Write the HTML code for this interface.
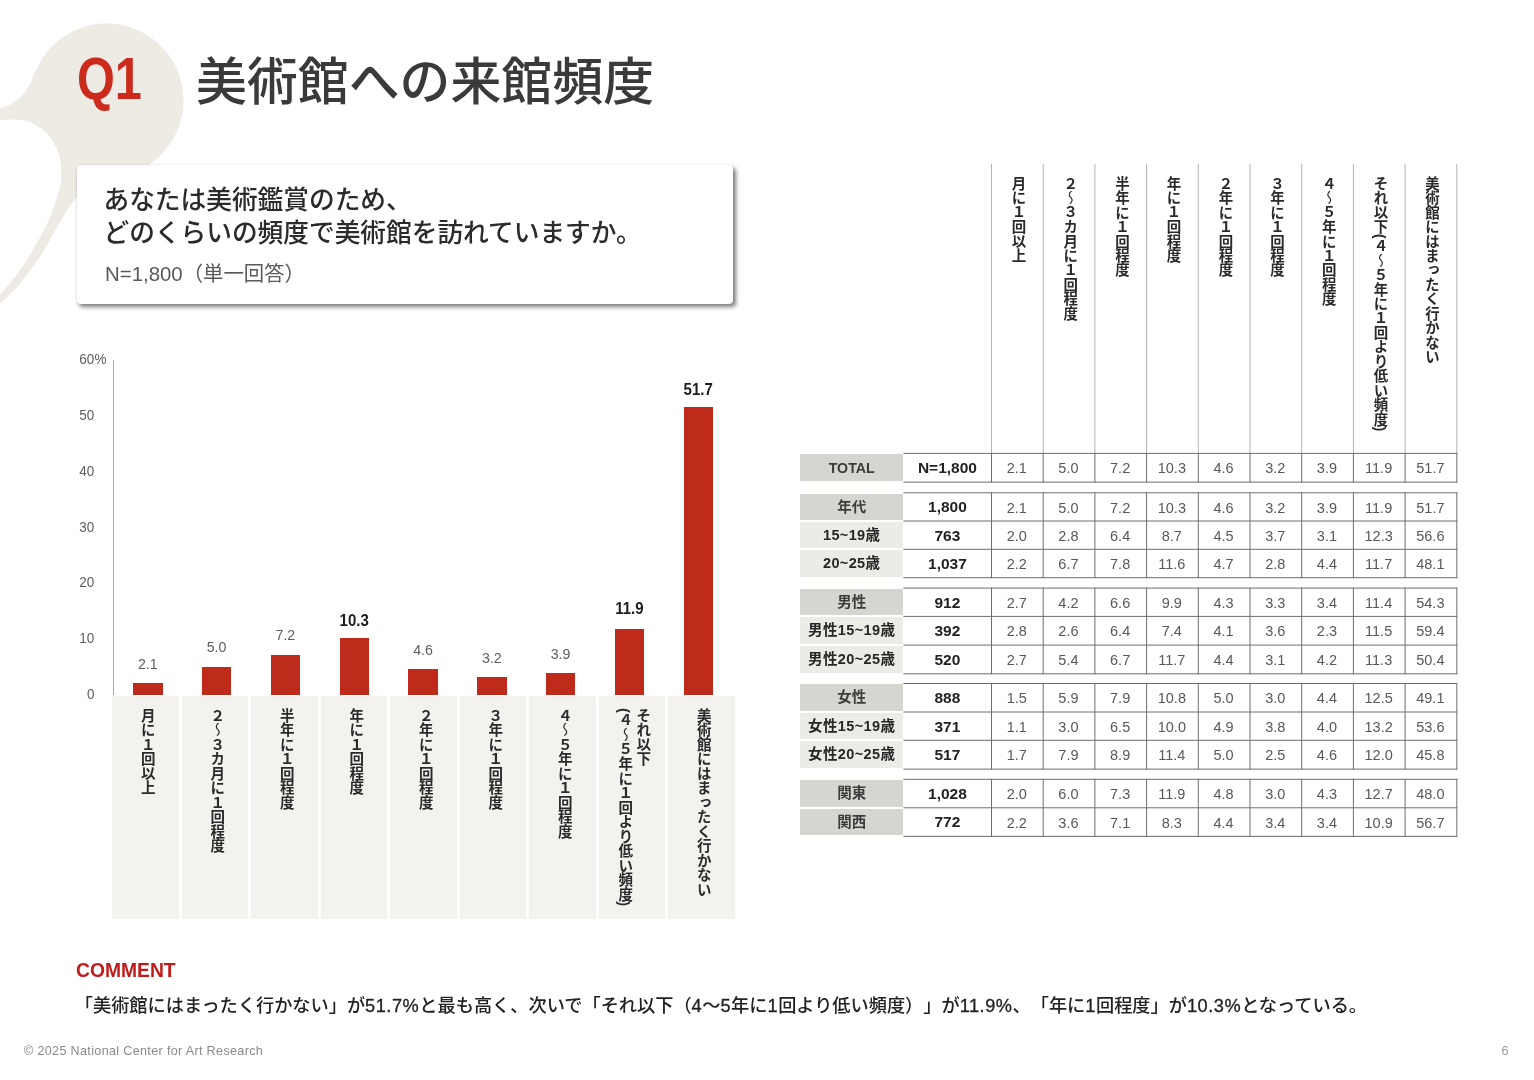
<!DOCTYPE html>
<html lang="ja">
<head>
<meta charset="utf-8">
<title>Q1 美術館への来館頻度</title>
<style>
html,body{margin:0;padding:0;background:#fff}
body{text-spacing-trim:space-all;width:1534px;height:1080px;position:relative;overflow:hidden;font-family:"Liberation Sans", "Noto Sans CJK JP", sans-serif;color:#333}
div,span{box-sizing:border-box}
.abs{position:absolute}
.bubble{position:absolute;left:0;top:0;width:400px;height:340px}
.q1{position:absolute;left:76.6px;top:47.2px;font-size:58.3px;line-height:64px;font-weight:700;color:#cb2a1c;transform-origin:0 50%;transform:scaleX(.835);white-space:nowrap}
.title{position:absolute;left:196px;top:48.4px;font-size:50.9px;line-height:70px;font-weight:500;color:#3a3a3a;white-space:nowrap}
.card{position:absolute;left:76.5px;top:164.5px;width:656.7px;height:139.8px;background:#fff;border-radius:4px;box-shadow:2.5px 3px 4px rgba(0,0,0,.5), 0 0 3px rgba(0,0,0,.07)}
.card .q{position:absolute;left:27px;top:19.3px;font-size:25.7px;line-height:33.6px;font-weight:500;color:#2b2b2b;white-space:nowrap}
.card .n{position:absolute;left:28.5px;top:95px;font-size:20.4px;line-height:28px;font-weight:400;color:#5a5a5a;white-space:nowrap}
.ylab{position:absolute;left:40px;width:54.4px;text-align:right;font-size:13.5px;line-height:16px;color:#5e5e5e;white-space:nowrap;transform:scaleY(1.14)}
.ylab i{font-style:normal;position:absolute;left:100%}
.axis{position:absolute;left:112.8px;top:360.2px;width:1px;height:335px;background:#a8a8a8}
.bar{position:absolute;background:#bf2b1b;width:29.4px}
.val{position:absolute;width:60px;text-align:center;font-size:14.2px;line-height:16px;color:#5e5e5e;transform:scaleY(1.07)}
.val.b{font-weight:700;font-size:15px;color:#1c1c1c;transform:scaleY(1.1)}
.xbox{position:absolute;top:696.2px;height:223px;background:#f4f2ee}
.vt i{font-style:normal;font-weight:400}
.vt{position:absolute;writing-mode:vertical-rl;text-orientation:mixed;font-weight:700;font-size:14.5px;line-height:18px;color:#2a2a2a;white-space:nowrap}
.lab{position:absolute;left:800px;width:103.4px;text-align:center;font-weight:700;font-size:14.5px;color:#262626;white-space:nowrap}
.lab.dk{background:#d6d5d0;color:#3c3c3c}
.lab.lt{background:#edebe6;letter-spacing:.38px}
.ncell{position:absolute;left:903.4px;width:88.1px;text-align:center;font-weight:700;font-size:15.5px;color:#222;white-space:nowrap}
.dcell{position:absolute;width:51.7px;text-align:center;font-size:14.5px;color:#585858;white-space:nowrap}
.comment-h{position:absolute;left:76px;top:960.4px;font-size:19.3px;line-height:22px;font-weight:700;color:#c11a1a}
.comment{position:absolute;left:74.8px;top:993px;font-size:18.2px;line-height:26px;font-weight:500;color:#222;white-space:nowrap}
.comment span{letter-spacing:.53px;-webkit-text-stroke:.3px #222}
.foot{position:absolute;left:24px;top:1043.6px;font-size:12.6px;line-height:14px;letter-spacing:.33px;color:#8a8a8a;white-space:nowrap}
.pg{position:absolute;left:1480px;width:28.5px;text-align:right;top:1043.8px;font-size:12.6px;line-height:14px;color:#999}
</style>
</head>
<body>

<svg class="bubble" viewBox="0 0 400 340" aria-hidden="true"><g fill="#eeeae4"><circle cx="106.7" cy="100.4" r="76.8"/><path d="M -6.0,109.5 C -5.0,109.3 -2.9,109.2 0.0,108.3 C 2.9,107.4 7.4,106.0 11.1,103.9 C 14.8,101.8 19.1,98.8 22.2,95.6 C 25.3,92.3 27.8,88.7 30.0,84.4 C 32.2,80.1 34.7,72.4 35.6,70.0 L 106,100 L 120,200 L 80.0,193.0 C 79.3,193.8 77.9,195.2 75.8,198.0 C 73.7,200.8 70.6,205.0 67.4,210.0 C 64.2,215.0 60.2,221.8 56.6,228.0 C 53.0,234.2 49.5,241.2 45.7,247.4 C 41.9,253.6 38.3,259.0 33.7,265.4 C 29.1,271.8 23.6,279.6 18.0,286.0 C 12.4,292.4 4.0,300.1 0.0,304.0 C -4.0,307.9 -5.0,308.6 -6.0,309.5 L -6.0,299.5 C -5.0,298.6 -3.4,298.0 0.0,294.3 C 3.4,290.6 9.8,283.5 14.4,277.5 C 19.0,271.5 23.5,264.8 27.7,258.2 C 31.9,251.6 35.9,244.8 39.7,237.8 C 43.5,230.8 47.7,222.6 50.5,216.0 C 53.3,209.4 54.9,203.3 56.6,198.0 C 58.3,192.7 59.9,188.7 60.6,184.0 C 61.4,179.3 61.4,174.9 61.1,170.0 C 60.8,165.1 60.2,159.0 58.9,154.4 C 57.6,149.8 55.7,146.1 53.3,142.2 C 50.9,138.3 48.3,134.4 44.4,131.1 C 40.5,127.8 34.6,124.0 30.0,122.2 C 25.4,120.4 21.7,120.4 16.7,120.0 C 11.7,119.6 3.8,120.0 0.0,120.0 C -3.8,120.0 -5.0,120.0 -6.0,120.0 Z"/></g><path fill="#fff" d="M -6.0,299.5 C -5.0,298.6 -3.4,298.0 0.0,294.3 C 3.4,290.6 9.8,283.5 14.4,277.5 C 19.0,271.5 23.5,264.8 27.7,258.2 C 31.9,251.6 35.9,244.8 39.7,237.8 C 43.5,230.8 47.7,222.6 50.5,216.0 C 53.3,209.4 54.9,203.3 56.6,198.0 C 58.3,192.7 59.9,188.7 60.6,184.0 C 61.4,179.3 61.4,174.9 61.1,170.0 C 60.8,165.1 60.2,159.0 58.9,154.4 C 57.6,149.8 55.7,146.1 53.3,142.2 C 50.9,138.3 48.3,134.4 44.4,131.1 C 40.5,127.8 34.6,124.0 30.0,122.2 C 25.4,120.4 21.7,120.4 16.7,120.0 C 11.7,119.6 3.8,120.0 0.0,120.0 C -3.8,120.0 -5.0,120.0 -6.0,120.0 Z"/></svg>
<div class="q1">Q1</div>
<div class="title">美術館への来館頻度</div>
<div class="card"><div class="q">あなたは美術鑑賞のため、<br>どのくらいの頻度で美術館を訪れていますか。</div><div class="n">N=1,800（単一回答）</div></div>
<div class="axis"></div>
<div class="ylab" style="top:351.3px">60<i>%</i></div>
<div class="ylab" style="top:406.8px">50</div>
<div class="ylab" style="top:462.7px">40</div>
<div class="ylab" style="top:518.5px">30</div>
<div class="ylab" style="top:574.3px">20</div>
<div class="ylab" style="top:630.2px">10</div>
<div class="ylab" style="top:686.0px">0</div>
<div class="xbox" style="left:112.2px;width:66.6px"></div>
<div class="bar" style="left:133.2px;top:683.4px;height:11.2px"></div>
<div class="val" style="left:117.8px;top:655.6px">2.1</div>
<div class="vt" style="left:137.7px;top:707.5px;width:18px">月に１回以上</div>
<div class="xbox" style="left:181.7px;width:66.6px"></div>
<div class="bar" style="left:201.9px;top:667.2px;height:27.4px"></div>
<div class="val" style="left:186.6px;top:639.4px">5.0</div>
<div class="vt" style="left:207.2px;top:707.5px;width:18px">２<i>～</i>３カ月に１回程度</div>
<div class="xbox" style="left:251.2px;width:66.6px"></div>
<div class="bar" style="left:270.8px;top:654.9px;height:39.7px"></div>
<div class="val" style="left:255.4px;top:627.1px">7.2</div>
<div class="vt" style="left:276.7px;top:707.5px;width:18px">半年に１回程度</div>
<div class="xbox" style="left:320.7px;width:66.6px"></div>
<div class="bar" style="left:339.6px;top:637.7px;height:56.9px"></div>
<div class="val b" style="left:324.2px;top:611.5px">10.3</div>
<div class="vt" style="left:346.2px;top:707.5px;width:18px">年に１回程度</div>
<div class="xbox" style="left:390.2px;width:66.6px"></div>
<div class="bar" style="left:408.3px;top:669.4px;height:25.2px"></div>
<div class="val" style="left:393.0px;top:641.6px">4.6</div>
<div class="vt" style="left:415.7px;top:707.5px;width:18px">２年に１回程度</div>
<div class="xbox" style="left:459.7px;width:66.6px"></div>
<div class="bar" style="left:477.2px;top:677.3px;height:17.3px"></div>
<div class="val" style="left:461.9px;top:649.5px">3.2</div>
<div class="vt" style="left:485.2px;top:707.5px;width:18px">３年に１回程度</div>
<div class="xbox" style="left:529.2px;width:66.6px"></div>
<div class="bar" style="left:545.9px;top:673.3px;height:21.3px"></div>
<div class="val" style="left:530.6px;top:645.5px">3.9</div>
<div class="vt" style="left:554.7px;top:707.5px;width:18px">４<i>～</i>５年に１回程度</div>
<div class="xbox" style="left:598.7px;width:66.6px"></div>
<div class="bar" style="left:614.7px;top:628.7px;height:65.9px"></div>
<div class="val b" style="left:599.4px;top:599.5px">11.9</div>
<div class="vt" style="left:615.2px;top:707.5px;width:36px">それ以下<br>(４<i>～</i>５年に１回より低い頻度)</div>
<div class="xbox" style="left:668.2px;width:66.6px"></div>
<div class="bar" style="left:683.5px;top:406.8px;height:287.8px"></div>
<div class="val b" style="left:668.2px;top:380.5px">51.7</div>
<div class="vt" style="left:693.7px;top:707.5px;width:18px">美術館にはまったく行かない</div>
<div class="vt" style="left:1008.6px;top:175.5px;width:18px;font-size:14.45px">月に１回以上</div>
<div class="vt" style="left:1060.3px;top:175.5px;width:18px;font-size:14.45px">２<i>～</i>３カ月に１回程度</div>
<div class="vt" style="left:1112.0px;top:175.5px;width:18px;font-size:14.45px">半年に１回程度</div>
<div class="vt" style="left:1163.6px;top:175.5px;width:18px;font-size:14.45px">年に１回程度</div>
<div class="vt" style="left:1215.4px;top:175.5px;width:18px;font-size:14.45px">２年に１回程度</div>
<div class="vt" style="left:1267.0px;top:175.5px;width:18px;font-size:14.45px">３年に１回程度</div>
<div class="vt" style="left:1318.8px;top:175.5px;width:18px;font-size:14.45px">４<i>～</i>５年に１回程度</div>
<div class="vt" style="left:1370.5px;top:175.5px;width:18px;font-size:14.45px">それ以下(４<i>～</i>５年に１回より低い頻度)</div>
<div class="vt" style="left:1422.1px;top:175.5px;width:18px;font-size:14.45px">美術館にはまったく行かない</div>
<div class="lab dk" style="top:454.2px;height:26.9px;line-height:28.9px;font-size:14.2px">TOTAL</div>
<div class="ncell" style="top:452.9px;height:28.7px;line-height:29.7px">N=1,800</div>
<div class="dcell" style="left:990.9px;top:454.2px;height:28.7px;line-height:29.7px">2.1</div>
<div class="dcell" style="left:1042.6px;top:454.2px;height:28.7px;line-height:29.7px">5.0</div>
<div class="dcell" style="left:1094.3px;top:454.2px;height:28.7px;line-height:29.7px">7.2</div>
<div class="dcell" style="left:1146.0px;top:454.2px;height:28.7px;line-height:29.7px">10.3</div>
<div class="dcell" style="left:1197.7px;top:454.2px;height:28.7px;line-height:29.7px">4.6</div>
<div class="dcell" style="left:1249.4px;top:454.2px;height:28.7px;line-height:29.7px">3.2</div>
<div class="dcell" style="left:1301.1px;top:454.2px;height:28.7px;line-height:29.7px">3.9</div>
<div class="dcell" style="left:1352.8px;top:454.2px;height:28.7px;line-height:29.7px">11.9</div>
<div class="dcell" style="left:1404.5px;top:454.2px;height:28.7px;line-height:29.7px">51.7</div>
<div class="lab dk" style="top:493.6px;height:26.4px;line-height:26.4px">年代</div>
<div class="ncell" style="top:492.3px;height:28.2px;line-height:29.2px">1,800</div>
<div class="dcell" style="left:990.9px;top:493.6px;height:28.2px;line-height:29.2px">2.1</div>
<div class="dcell" style="left:1042.6px;top:493.6px;height:28.2px;line-height:29.2px">5.0</div>
<div class="dcell" style="left:1094.3px;top:493.6px;height:28.2px;line-height:29.2px">7.2</div>
<div class="dcell" style="left:1146.0px;top:493.6px;height:28.2px;line-height:29.2px">10.3</div>
<div class="dcell" style="left:1197.7px;top:493.6px;height:28.2px;line-height:29.2px">4.6</div>
<div class="dcell" style="left:1249.4px;top:493.6px;height:28.2px;line-height:29.2px">3.2</div>
<div class="dcell" style="left:1301.1px;top:493.6px;height:28.2px;line-height:29.2px">3.9</div>
<div class="dcell" style="left:1352.8px;top:493.6px;height:28.2px;line-height:29.2px">11.9</div>
<div class="dcell" style="left:1404.5px;top:493.6px;height:28.2px;line-height:29.2px">51.7</div>
<div class="lab lt" style="top:521.8px;height:26.5px;line-height:26.5px">15~19歳</div>
<div class="ncell" style="top:520.5px;height:28.3px;line-height:29.3px">763</div>
<div class="dcell" style="left:990.9px;top:521.8px;height:28.3px;line-height:29.3px">2.0</div>
<div class="dcell" style="left:1042.6px;top:521.8px;height:28.3px;line-height:29.3px">2.8</div>
<div class="dcell" style="left:1094.3px;top:521.8px;height:28.3px;line-height:29.3px">6.4</div>
<div class="dcell" style="left:1146.0px;top:521.8px;height:28.3px;line-height:29.3px">8.7</div>
<div class="dcell" style="left:1197.7px;top:521.8px;height:28.3px;line-height:29.3px">4.5</div>
<div class="dcell" style="left:1249.4px;top:521.8px;height:28.3px;line-height:29.3px">3.7</div>
<div class="dcell" style="left:1301.1px;top:521.8px;height:28.3px;line-height:29.3px">3.1</div>
<div class="dcell" style="left:1352.8px;top:521.8px;height:28.3px;line-height:29.3px">12.3</div>
<div class="dcell" style="left:1404.5px;top:521.8px;height:28.3px;line-height:29.3px">56.6</div>
<div class="lab lt" style="top:550.1px;height:26.6px;line-height:26.6px">20~25歳</div>
<div class="ncell" style="top:548.8px;height:28.4px;line-height:29.4px">1,037</div>
<div class="dcell" style="left:990.9px;top:550.1px;height:28.4px;line-height:29.4px">2.2</div>
<div class="dcell" style="left:1042.6px;top:550.1px;height:28.4px;line-height:29.4px">6.7</div>
<div class="dcell" style="left:1094.3px;top:550.1px;height:28.4px;line-height:29.4px">7.8</div>
<div class="dcell" style="left:1146.0px;top:550.1px;height:28.4px;line-height:29.4px">11.6</div>
<div class="dcell" style="left:1197.7px;top:550.1px;height:28.4px;line-height:29.4px">4.7</div>
<div class="dcell" style="left:1249.4px;top:550.1px;height:28.4px;line-height:29.4px">2.8</div>
<div class="dcell" style="left:1301.1px;top:550.1px;height:28.4px;line-height:29.4px">4.4</div>
<div class="dcell" style="left:1352.8px;top:550.1px;height:28.4px;line-height:29.4px">11.7</div>
<div class="dcell" style="left:1404.5px;top:550.1px;height:28.4px;line-height:29.4px">48.1</div>
<div class="lab dk" style="top:588.9px;height:26.5px;line-height:26.5px">男性</div>
<div class="ncell" style="top:587.6px;height:28.3px;line-height:29.3px">912</div>
<div class="dcell" style="left:990.9px;top:588.9px;height:28.3px;line-height:29.3px">2.7</div>
<div class="dcell" style="left:1042.6px;top:588.9px;height:28.3px;line-height:29.3px">4.2</div>
<div class="dcell" style="left:1094.3px;top:588.9px;height:28.3px;line-height:29.3px">6.6</div>
<div class="dcell" style="left:1146.0px;top:588.9px;height:28.3px;line-height:29.3px">9.9</div>
<div class="dcell" style="left:1197.7px;top:588.9px;height:28.3px;line-height:29.3px">4.3</div>
<div class="dcell" style="left:1249.4px;top:588.9px;height:28.3px;line-height:29.3px">3.3</div>
<div class="dcell" style="left:1301.1px;top:588.9px;height:28.3px;line-height:29.3px">3.4</div>
<div class="dcell" style="left:1352.8px;top:588.9px;height:28.3px;line-height:29.3px">11.4</div>
<div class="dcell" style="left:1404.5px;top:588.9px;height:28.3px;line-height:29.3px">54.3</div>
<div class="lab lt" style="top:617.2px;height:26.9px;line-height:26.9px">男性15~19歳</div>
<div class="ncell" style="top:615.9px;height:28.7px;line-height:29.7px">392</div>
<div class="dcell" style="left:990.9px;top:617.2px;height:28.7px;line-height:29.7px">2.8</div>
<div class="dcell" style="left:1042.6px;top:617.2px;height:28.7px;line-height:29.7px">2.6</div>
<div class="dcell" style="left:1094.3px;top:617.2px;height:28.7px;line-height:29.7px">6.4</div>
<div class="dcell" style="left:1146.0px;top:617.2px;height:28.7px;line-height:29.7px">7.4</div>
<div class="dcell" style="left:1197.7px;top:617.2px;height:28.7px;line-height:29.7px">4.1</div>
<div class="dcell" style="left:1249.4px;top:617.2px;height:28.7px;line-height:29.7px">3.6</div>
<div class="dcell" style="left:1301.1px;top:617.2px;height:28.7px;line-height:29.7px">2.3</div>
<div class="dcell" style="left:1352.8px;top:617.2px;height:28.7px;line-height:29.7px">11.5</div>
<div class="dcell" style="left:1404.5px;top:617.2px;height:28.7px;line-height:29.7px">59.4</div>
<div class="lab lt" style="top:645.9px;height:26.9px;line-height:26.9px">男性20~25歳</div>
<div class="ncell" style="top:644.6px;height:28.7px;line-height:29.7px">520</div>
<div class="dcell" style="left:990.9px;top:645.9px;height:28.7px;line-height:29.7px">2.7</div>
<div class="dcell" style="left:1042.6px;top:645.9px;height:28.7px;line-height:29.7px">5.4</div>
<div class="dcell" style="left:1094.3px;top:645.9px;height:28.7px;line-height:29.7px">6.7</div>
<div class="dcell" style="left:1146.0px;top:645.9px;height:28.7px;line-height:29.7px">11.7</div>
<div class="dcell" style="left:1197.7px;top:645.9px;height:28.7px;line-height:29.7px">4.4</div>
<div class="dcell" style="left:1249.4px;top:645.9px;height:28.7px;line-height:29.7px">3.1</div>
<div class="dcell" style="left:1301.1px;top:645.9px;height:28.7px;line-height:29.7px">4.2</div>
<div class="dcell" style="left:1352.8px;top:645.9px;height:28.7px;line-height:29.7px">11.3</div>
<div class="dcell" style="left:1404.5px;top:645.9px;height:28.7px;line-height:29.7px">50.4</div>
<div class="lab dk" style="top:684.3px;height:26.7px;line-height:26.7px">女性</div>
<div class="ncell" style="top:683.0px;height:28.5px;line-height:29.5px">888</div>
<div class="dcell" style="left:990.9px;top:684.3px;height:28.5px;line-height:29.5px">1.5</div>
<div class="dcell" style="left:1042.6px;top:684.3px;height:28.5px;line-height:29.5px">5.9</div>
<div class="dcell" style="left:1094.3px;top:684.3px;height:28.5px;line-height:29.5px">7.9</div>
<div class="dcell" style="left:1146.0px;top:684.3px;height:28.5px;line-height:29.5px">10.8</div>
<div class="dcell" style="left:1197.7px;top:684.3px;height:28.5px;line-height:29.5px">5.0</div>
<div class="dcell" style="left:1249.4px;top:684.3px;height:28.5px;line-height:29.5px">3.0</div>
<div class="dcell" style="left:1301.1px;top:684.3px;height:28.5px;line-height:29.5px">4.4</div>
<div class="dcell" style="left:1352.8px;top:684.3px;height:28.5px;line-height:29.5px">12.5</div>
<div class="dcell" style="left:1404.5px;top:684.3px;height:28.5px;line-height:29.5px">49.1</div>
<div class="lab lt" style="top:712.8px;height:26.5px;line-height:26.5px">女性15~19歳</div>
<div class="ncell" style="top:711.5px;height:28.3px;line-height:29.3px">371</div>
<div class="dcell" style="left:990.9px;top:712.8px;height:28.3px;line-height:29.3px">1.1</div>
<div class="dcell" style="left:1042.6px;top:712.8px;height:28.3px;line-height:29.3px">3.0</div>
<div class="dcell" style="left:1094.3px;top:712.8px;height:28.3px;line-height:29.3px">6.5</div>
<div class="dcell" style="left:1146.0px;top:712.8px;height:28.3px;line-height:29.3px">10.0</div>
<div class="dcell" style="left:1197.7px;top:712.8px;height:28.3px;line-height:29.3px">4.9</div>
<div class="dcell" style="left:1249.4px;top:712.8px;height:28.3px;line-height:29.3px">3.8</div>
<div class="dcell" style="left:1301.1px;top:712.8px;height:28.3px;line-height:29.3px">4.0</div>
<div class="dcell" style="left:1352.8px;top:712.8px;height:28.3px;line-height:29.3px">13.2</div>
<div class="dcell" style="left:1404.5px;top:712.8px;height:28.3px;line-height:29.3px">53.6</div>
<div class="lab lt" style="top:741.1px;height:27.0px;line-height:27.0px">女性20~25歳</div>
<div class="ncell" style="top:739.8px;height:28.8px;line-height:29.8px">517</div>
<div class="dcell" style="left:990.9px;top:741.1px;height:28.8px;line-height:29.8px">1.7</div>
<div class="dcell" style="left:1042.6px;top:741.1px;height:28.8px;line-height:29.8px">7.9</div>
<div class="dcell" style="left:1094.3px;top:741.1px;height:28.8px;line-height:29.8px">8.9</div>
<div class="dcell" style="left:1146.0px;top:741.1px;height:28.8px;line-height:29.8px">11.4</div>
<div class="dcell" style="left:1197.7px;top:741.1px;height:28.8px;line-height:29.8px">5.0</div>
<div class="dcell" style="left:1249.4px;top:741.1px;height:28.8px;line-height:29.8px">2.5</div>
<div class="dcell" style="left:1301.1px;top:741.1px;height:28.8px;line-height:29.8px">4.6</div>
<div class="dcell" style="left:1352.8px;top:741.1px;height:28.8px;line-height:29.8px">12.0</div>
<div class="dcell" style="left:1404.5px;top:741.1px;height:28.8px;line-height:29.8px">45.8</div>
<div class="lab dk" style="top:780.1px;height:26.7px;line-height:26.7px">関東</div>
<div class="ncell" style="top:778.8px;height:28.5px;line-height:29.5px">1,028</div>
<div class="dcell" style="left:990.9px;top:780.1px;height:28.5px;line-height:29.5px">2.0</div>
<div class="dcell" style="left:1042.6px;top:780.1px;height:28.5px;line-height:29.5px">6.0</div>
<div class="dcell" style="left:1094.3px;top:780.1px;height:28.5px;line-height:29.5px">7.3</div>
<div class="dcell" style="left:1146.0px;top:780.1px;height:28.5px;line-height:29.5px">11.9</div>
<div class="dcell" style="left:1197.7px;top:780.1px;height:28.5px;line-height:29.5px">4.8</div>
<div class="dcell" style="left:1249.4px;top:780.1px;height:28.5px;line-height:29.5px">3.0</div>
<div class="dcell" style="left:1301.1px;top:780.1px;height:28.5px;line-height:29.5px">4.3</div>
<div class="dcell" style="left:1352.8px;top:780.1px;height:28.5px;line-height:29.5px">12.7</div>
<div class="dcell" style="left:1404.5px;top:780.1px;height:28.5px;line-height:29.5px">48.0</div>
<div class="lab dk" style="top:808.6px;height:26.8px;line-height:26.8px">関西</div>
<div class="ncell" style="top:807.3px;height:28.6px;line-height:29.6px">772</div>
<div class="dcell" style="left:990.9px;top:808.6px;height:28.6px;line-height:29.6px">2.2</div>
<div class="dcell" style="left:1042.6px;top:808.6px;height:28.6px;line-height:29.6px">3.6</div>
<div class="dcell" style="left:1094.3px;top:808.6px;height:28.6px;line-height:29.6px">7.1</div>
<div class="dcell" style="left:1146.0px;top:808.6px;height:28.6px;line-height:29.6px">8.3</div>
<div class="dcell" style="left:1197.7px;top:808.6px;height:28.6px;line-height:29.6px">4.4</div>
<div class="dcell" style="left:1249.4px;top:808.6px;height:28.6px;line-height:29.6px">3.4</div>
<div class="dcell" style="left:1301.1px;top:808.6px;height:28.6px;line-height:29.6px">3.4</div>
<div class="dcell" style="left:1352.8px;top:808.6px;height:28.6px;line-height:29.6px">10.9</div>
<div class="dcell" style="left:1404.5px;top:808.6px;height:28.6px;line-height:29.6px">56.7</div>
<svg class="abs" style="left:0;top:0" width="1534" height="1080" viewBox="0 0 1534 1080" aria-hidden="true"><g stroke="#b4b4b4" stroke-width="1"><line x1="991.5" y1="164" x2="991.5" y2="453.4"/><line x1="1043.2" y1="164" x2="1043.2" y2="453.4"/><line x1="1094.9" y1="164" x2="1094.9" y2="453.4"/><line x1="1146.6" y1="164" x2="1146.6" y2="453.4"/><line x1="1198.3" y1="164" x2="1198.3" y2="453.4"/><line x1="1250.0" y1="164" x2="1250.0" y2="453.4"/><line x1="1301.7" y1="164" x2="1301.7" y2="453.4"/><line x1="1353.4" y1="164" x2="1353.4" y2="453.4"/><line x1="1405.1" y1="164" x2="1405.1" y2="453.4"/><line x1="1456.8" y1="164" x2="1456.8" y2="453.4"/></g><g stroke="#6e6e6e" stroke-width="1"><line x1="903.4" y1="453.4" x2="1457.3" y2="453.4"/><line x1="903.4" y1="482.1" x2="1457.3" y2="482.1"/><line x1="991.5" y1="452.9" x2="991.5" y2="482.6"/><line x1="1043.2" y1="452.9" x2="1043.2" y2="482.6"/><line x1="1094.9" y1="452.9" x2="1094.9" y2="482.6"/><line x1="1146.6" y1="452.9" x2="1146.6" y2="482.6"/><line x1="1198.3" y1="452.9" x2="1198.3" y2="482.6"/><line x1="1250.0" y1="452.9" x2="1250.0" y2="482.6"/><line x1="1301.7" y1="452.9" x2="1301.7" y2="482.6"/><line x1="1353.4" y1="452.9" x2="1353.4" y2="482.6"/><line x1="1405.1" y1="452.9" x2="1405.1" y2="482.6"/><line x1="1456.8" y1="452.9" x2="1456.8" y2="482.6"/><line x1="903.4" y1="492.8" x2="1457.3" y2="492.8"/><line x1="903.4" y1="521.0" x2="1457.3" y2="521.0"/><line x1="903.4" y1="549.3" x2="1457.3" y2="549.3"/><line x1="903.4" y1="577.7" x2="1457.3" y2="577.7"/><line x1="991.5" y1="492.3" x2="991.5" y2="578.2"/><line x1="1043.2" y1="492.3" x2="1043.2" y2="578.2"/><line x1="1094.9" y1="492.3" x2="1094.9" y2="578.2"/><line x1="1146.6" y1="492.3" x2="1146.6" y2="578.2"/><line x1="1198.3" y1="492.3" x2="1198.3" y2="578.2"/><line x1="1250.0" y1="492.3" x2="1250.0" y2="578.2"/><line x1="1301.7" y1="492.3" x2="1301.7" y2="578.2"/><line x1="1353.4" y1="492.3" x2="1353.4" y2="578.2"/><line x1="1405.1" y1="492.3" x2="1405.1" y2="578.2"/><line x1="1456.8" y1="492.3" x2="1456.8" y2="578.2"/><line x1="903.4" y1="588.1" x2="1457.3" y2="588.1"/><line x1="903.4" y1="616.4" x2="1457.3" y2="616.4"/><line x1="903.4" y1="645.1" x2="1457.3" y2="645.1"/><line x1="903.4" y1="673.8" x2="1457.3" y2="673.8"/><line x1="991.5" y1="587.6" x2="991.5" y2="674.3"/><line x1="1043.2" y1="587.6" x2="1043.2" y2="674.3"/><line x1="1094.9" y1="587.6" x2="1094.9" y2="674.3"/><line x1="1146.6" y1="587.6" x2="1146.6" y2="674.3"/><line x1="1198.3" y1="587.6" x2="1198.3" y2="674.3"/><line x1="1250.0" y1="587.6" x2="1250.0" y2="674.3"/><line x1="1301.7" y1="587.6" x2="1301.7" y2="674.3"/><line x1="1353.4" y1="587.6" x2="1353.4" y2="674.3"/><line x1="1405.1" y1="587.6" x2="1405.1" y2="674.3"/><line x1="1456.8" y1="587.6" x2="1456.8" y2="674.3"/><line x1="903.4" y1="683.5" x2="1457.3" y2="683.5"/><line x1="903.4" y1="712.0" x2="1457.3" y2="712.0"/><line x1="903.4" y1="740.3" x2="1457.3" y2="740.3"/><line x1="903.4" y1="769.1" x2="1457.3" y2="769.1"/><line x1="991.5" y1="683.0" x2="991.5" y2="769.6"/><line x1="1043.2" y1="683.0" x2="1043.2" y2="769.6"/><line x1="1094.9" y1="683.0" x2="1094.9" y2="769.6"/><line x1="1146.6" y1="683.0" x2="1146.6" y2="769.6"/><line x1="1198.3" y1="683.0" x2="1198.3" y2="769.6"/><line x1="1250.0" y1="683.0" x2="1250.0" y2="769.6"/><line x1="1301.7" y1="683.0" x2="1301.7" y2="769.6"/><line x1="1353.4" y1="683.0" x2="1353.4" y2="769.6"/><line x1="1405.1" y1="683.0" x2="1405.1" y2="769.6"/><line x1="1456.8" y1="683.0" x2="1456.8" y2="769.6"/><line x1="903.4" y1="779.3" x2="1457.3" y2="779.3"/><line x1="903.4" y1="807.8" x2="1457.3" y2="807.8"/><line x1="903.4" y1="836.4" x2="1457.3" y2="836.4"/><line x1="991.5" y1="778.8" x2="991.5" y2="836.9"/><line x1="1043.2" y1="778.8" x2="1043.2" y2="836.9"/><line x1="1094.9" y1="778.8" x2="1094.9" y2="836.9"/><line x1="1146.6" y1="778.8" x2="1146.6" y2="836.9"/><line x1="1198.3" y1="778.8" x2="1198.3" y2="836.9"/><line x1="1250.0" y1="778.8" x2="1250.0" y2="836.9"/><line x1="1301.7" y1="778.8" x2="1301.7" y2="836.9"/><line x1="1353.4" y1="778.8" x2="1353.4" y2="836.9"/><line x1="1405.1" y1="778.8" x2="1405.1" y2="836.9"/><line x1="1456.8" y1="778.8" x2="1456.8" y2="836.9"/></g></svg>
<div class="comment-h">COMMENT</div>
<div class="comment">「美術館にはまったく行かない」が<span>51.7%</span>と最も高く、次いで「それ以下（<span>4</span>〜<span>5</span>年に<span>1</span>回より低い頻度）」が<span>11.9%</span>、「年に<span>1</span>回程度」が<span>10.3%</span>となっている。</div>
<div class="foot">© 2025 National Center for Art Research</div>
<div class="pg">6</div>
</body>
</html>
